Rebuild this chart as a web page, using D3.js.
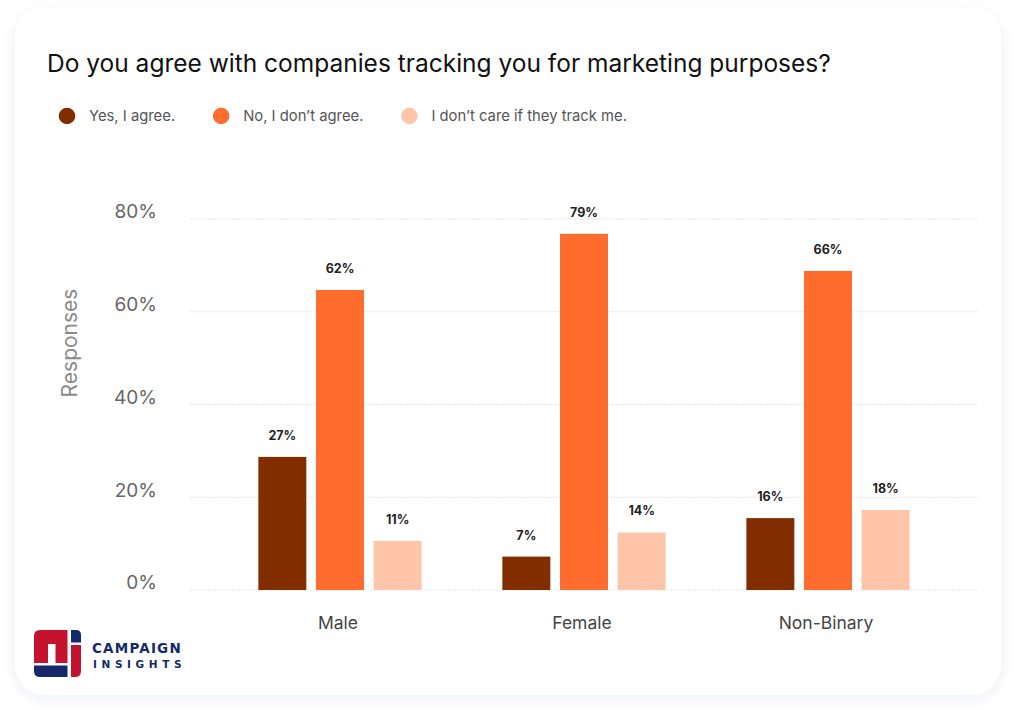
<!DOCTYPE html>
<html>
<head>
<meta charset="utf-8">
<script src="https://cdn.jsdelivr.net/npm/d3@7"></script>
<style>
  html, body { margin: 0; padding: 0; background: #ffffff; }
  svg { display: block; }
</style>
</head>
<body>
<svg id="chart" width="1024" height="728"></svg>
<script>
// ---- data ----
const categories = ["Male", "Female", "Non-Binary"];
const seriesNames = ["Yes, I agree.", "No, I don\u2019t agree.", "I don\u2019t care if they track me."];
const seriesColors = ["#822d00", "#ff6d2e", "#ffc5a8"];
// bar heights as drawn in the picture (%)
const yesValues = [28.7, 7.2, 15.5];
const noValues = [64.7, 76.8, 68.8];
const careValues = [10.6, 12.4, 17.25];
// printed labels above the bars
const yesLabels = ["27%", "7%", "16%"];
const noLabels = ["62%", "79%", "66%"];
const careLabels = ["11%", "14%", "18%"];
const yTicks = [0, 20, 40, 60, 80];
const titleText = "Do you agree with companies tracking you for marketing purposes?";
const yAxisTitle = "Responses";

const seriesValues = [yesValues, noValues, careValues];
const seriesLabels = [yesLabels, noLabels, careLabels];

const svg = d3.select("#chart");
const FONT = "Inter, 'Noto Sans', sans-serif";

// ---- card ----
const defs = svg.append("defs");
const f = defs.append("filter").attr("id", "shadow").attr("x", "-10%").attr("y", "-10%").attr("width", "120%").attr("height", "120%");
f.append("feDropShadow").attr("dx", 0).attr("dy", 4).attr("stdDeviation", 7)
  .attr("flood-color", "#2a3470").attr("flood-opacity", 0.07);
svg.append("rect").attr("x", 15).attr("y", 7).attr("width", 986).attr("height", 688)
  .attr("rx", 30).attr("fill", "#ffffff").attr("filter", "url(#shadow)");

// ---- title ----
svg.append("text").attr("x", 47).attr("y", 72)
  .attr("font-family", FONT).attr("font-size", 24.5).attr("fill", "#111")
  .text(titleText);

// ---- legend ----
const legend = svg.append("g").attr("font-family", FONT).attr("font-size", 14.8).attr("fill", "#555");
let lx = 67;
seriesNames.forEach((name, i) => {
  legend.append("circle").attr("cx", lx).attr("cy", 116).attr("r", 8.3).attr("fill", seriesColors[i]);
  const t = legend.append("text").attr("x", lx + 22).attr("y", 121.2).text(name);
  const w = t.node().getComputedTextLength();
  lx = lx + 22 + w + 46;
});

// ---- scales ----
const y = d3.scaleLinear().domain([0, 80]).range([590, 219]);
const x0 = d3.scaleBand().domain(categories).range([218, 950]).paddingInner(0).paddingOuter(0);
const x1 = d3.scaleBand().domain(d3.range(seriesNames.length)).range([0, x0.bandwidth()])
  .paddingInner(0.168).paddingOuter(0.7);

// ---- gridlines ----
const grid = svg.append("g");
grid.selectAll("line").data(yTicks).join("line")
  .attr("x1", 190).attr("x2", 977)
  .attr("y1", d => y(d)).attr("y2", d => y(d))
  .attr("stroke", "#e6e6e6").attr("stroke-width", 1).attr("stroke-dasharray", "2,1");

// ---- y axis labels ----
const yAxis = d3.axisLeft(y).tickValues(yTicks).tickFormat(d => d + "%").tickSize(0).tickPadding(0);
const yg = svg.append("g").attr("transform", "translate(157,0)").call(yAxis);
yg.select(".domain").remove();
yg.selectAll("text").attr("font-family", FONT).attr("font-size", 19).attr("fill", "#666")
  .attr("dy", "-0.06em");

svg.append("text").attr("transform", "translate(77,343) rotate(-90)")
  .attr("text-anchor", "middle").attr("font-family", FONT).attr("font-size", 21).attr("fill", "#8a8a8a")
  .text(yAxisTitle);

// ---- x axis labels ----
const xAxis = d3.axisBottom(x0).tickSize(0).tickPadding(0);
const xg = svg.append("g").attr("transform", "translate(-2,617)").call(xAxis);
xg.select(".domain").remove();
xg.selectAll("text").attr("font-family", FONT).attr("font-size", 17.5).attr("fill", "#444");

// ---- bars ----
const rows = [];
categories.forEach((c, ci) => {
  seriesNames.forEach((s, si) => {
    rows.push({ cat: c, s: si, v: seriesValues[si][ci], label: seriesLabels[si][ci] });
  });
});
const bars = svg.append("g");
bars.selectAll("rect").data(rows).join("rect")
  .attr("x", d => x0(d.cat) + x1(d.s))
  .attr("y", d => y(d.v))
  .attr("width", x1.bandwidth())
  .attr("height", d => y(0) - y(d.v))
  .attr("fill", d => seriesColors[d.s]);

bars.selectAll("text").data(rows).join("text")
  .attr("x", d => x0(d.cat) + x1(d.s) + x1.bandwidth() / 2)
  .attr("y", d => y(d.v) - 17)
  .attr("text-anchor", "middle")
  .attr("font-family", FONT).attr("font-size", 12.5).attr("font-weight", 700).attr("fill", "#222")
  .text(d => d.label);

// ---- logo ----
const logo = svg.append("g");
const red = "#c4122f", navy = "#15296a";
logo.append("path").attr("fill", red)
  .attr("d", "M34,636 Q34,630 40,630 L67.5,630 L67.5,663 L55.5,663 L55.5,644 L48,644 L48,663 L34,663 Z");
logo.append("path").attr("fill", navy)
  .attr("d", "M71,630 L76,630 Q81,630 81,635 L81,642.5 L71,642.5 Z");
logo.append("path").attr("fill", red)
  .attr("d", "M71,645 L81,645 L81,671 Q81,677 75,677 L71,677 Z");
logo.append("path").attr("fill", navy)
  .attr("d", "M34,665.5 L67.5,665.5 L67.5,677 L40,677 Q34,677 34,671 Z");
logo.append("text").attr("x", 92).attr("y", 653).attr("font-family", "'DejaVu Sans', sans-serif")
  .attr("font-weight", 700).attr("font-size", 13.5).attr("fill", navy).attr("letter-spacing", 1.2)
  .text("CAMPAIGN");
logo.append("text").attr("x", 93).attr("y", 668).attr("font-family", "'DejaVu Sans', sans-serif")
  .attr("font-weight", 700).attr("font-size", 10.5).attr("fill", navy).attr("letter-spacing", 4.6)
  .text("INSIGHTS");
</script>
</body>
</html>
